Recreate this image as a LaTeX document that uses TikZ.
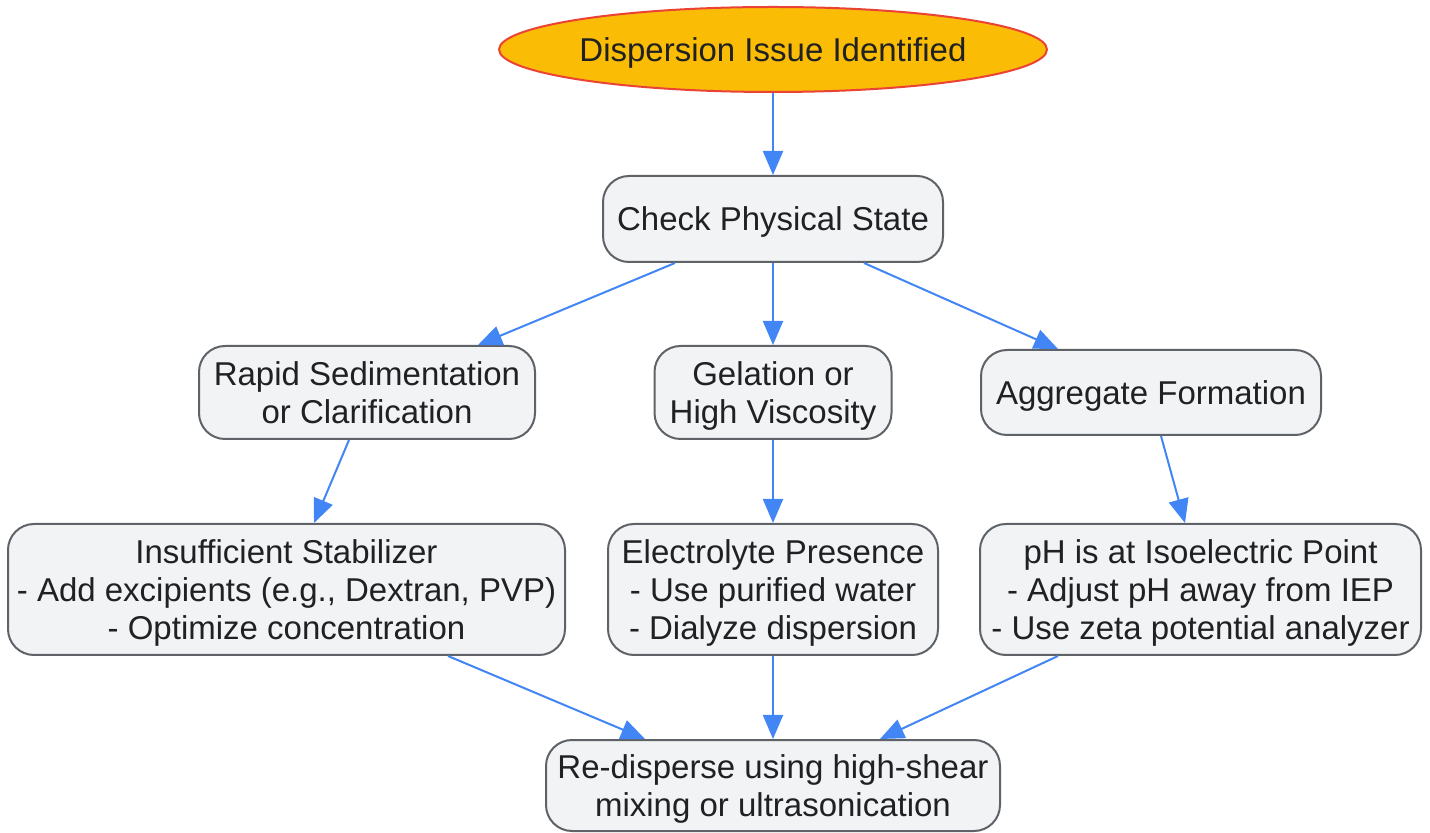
\documentclass[tikz,border=0pt]{standalone}
\usepackage{fontspec}
\setmainfont{Liberation Sans}
\usetikzlibrary{arrows.meta,shapes.geometric}
\definecolor{startfill}{HTML}{FBBC05}
\definecolor{startline}{HTML}{EA4335}
\definecolor{boxfill}{HTML}{F1F3F4}
\definecolor{boxline}{HTML}{5F6368}
\definecolor{flow}{HTML}{4285F4}
\definecolor{txt}{HTML}{202124}
\begin{document}
\begin{tikzpicture}[x=0.5pt,y=-0.5pt,>={Triangle[length=12pt,width=10pt]},
	font=\fontsize{16.5}{19}\selectfont, line join=round,
	box/.style={draw=boxline, fill=boxfill, line width=1pt, rounded corners=13pt, align=center, text=txt, inner sep=0pt, text depth=0pt},
	startnode/.style={ellipse, draw=startline, fill=startfill, line width=1pt, text=txt, inner sep=0pt, text depth=0pt, minimum width=274pt, minimum height=42.5pt},
	link/.style={->, draw=flow, line width=1pt}]
	\useasboundingbox (0,0) rectangle (1430,833);
	% nodes
	\node[startnode] (start) at (773,49.5) {Dispersion Issue Identified};
	\node[box, minimum width=170pt, minimum height=43pt] (check) at (773,219) {Check Physical State};
	\node[box, minimum width=168pt, minimum height=46.5pt] (rapid) at (367,392.5) {Rapid Sedimentation\\or Clarification};
	\node[box, minimum width=118.5pt, minimum height=46.5pt] (gel) at (773,392.5) {Gelation or\\High Viscosity};
	\node[box, minimum width=170pt, minimum height=42.5pt] (agg) at (1151,392.5) {Aggregate Formation};
	\node[box, minimum width=278.5pt, minimum height=65.5pt] (insuf) at (286.5,589.5) {Insufficient Stabilizer\\- Add excipients (e.g., Dextran, PVP)\\- Optimize concentration};
	\node[box, minimum width=165pt, minimum height=65.5pt] (elec) at (773,589.5) {Electrolyte Presence\\- Use purified water\\- Dialyze dispersion};
	\node[box, minimum width=220.5pt, minimum height=65.5pt] (ph) at (1200.5,589.5) {pH is at Isoelectric Point\\- Adjust pH away from IEP\\- Use zeta potential analyzer};
	\node[box, minimum width=227pt, minimum height=45.5pt] (redis) at (773,785.5) {Re-disperse using high-shear\\mixing or ultrasonication};
	% connectors
	\draw[link] (start.south) -- (check.north);
	\draw[link] ([xshift=-49pt]check.south) -- ([xshift=55.5pt]rapid.north);
	\draw[link] (check.south) -- (gel.north);
	\draw[link] ([xshift=45.5pt]check.south) -- ([xshift=-46.5pt]agg.north);
	\draw[link] ([xshift=-9pt]rapid.south) -- ([xshift=13.75pt]insuf.north);
	\draw[link] (gel.south) -- (elec.north);
	\draw[link] ([xshift=5pt]agg.south) -- ([xshift=-7.75pt]ph.north);
	\draw[link] ([xshift=80.75pt]insuf.south) -- ([xshift=-64pt]redis.north);
	\draw[link] (elec.south) -- (redis.north);
	\draw[link] ([xshift=-71.25pt]ph.south) -- ([xshift=53.5pt]redis.north);
\end{tikzpicture}
\end{document}
